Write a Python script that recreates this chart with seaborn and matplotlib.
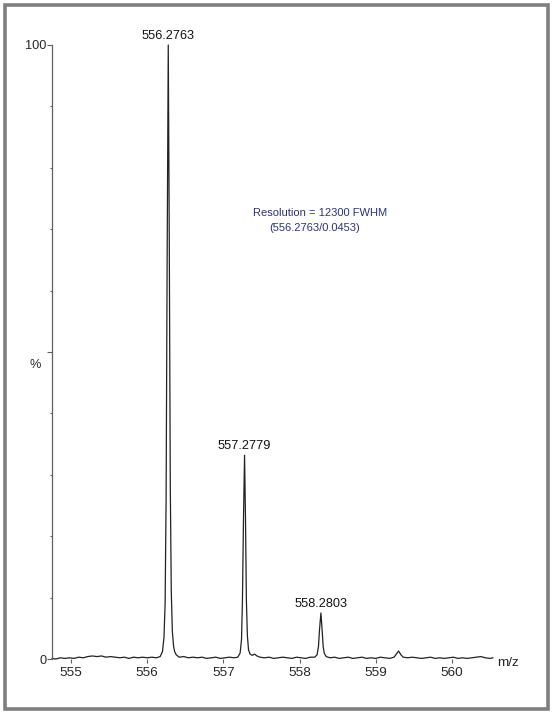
#!/usr/bin/env python3
"""Mass spectrum (profile mode) around m/z 556 with resolution note."""

import matplotlib
matplotlib.use("Agg")
import matplotlib.pyplot as plt
import pandas as pd
import seaborn as sns
from matplotlib.patches import Rectangle
from matplotlib.ticker import MultipleLocator

# profile trace (m/z, relative intensity %)
MZ = [
    554.75, 554.80, 554.86, 554.92, 554.98, 555.04, 555.10, 555.16, 555.22, 555.28,
    555.34, 555.40, 555.46, 555.52, 555.58, 555.64, 555.70, 555.76, 555.82, 555.88,
    555.94, 556.00, 556.06, 556.12, 556.17, 556.20, 556.22, 556.235, 556.248, 556.262,
    556.2763, 556.29, 556.303, 556.316, 556.33, 556.345, 556.36, 556.38, 556.42, 556.48,
    556.54, 556.60, 556.66, 556.72, 556.78, 556.84, 556.90, 556.96, 557.02, 557.08,
    557.14, 557.19, 557.22, 557.238, 557.25, 557.264, 557.2779, 557.29, 557.302, 557.315,
    557.33, 557.35, 557.38, 557.41, 557.44, 557.48, 557.54, 557.60, 557.66, 557.72,
    557.78, 557.84, 557.90, 557.96, 558.02, 558.08, 558.14, 558.20, 558.23, 558.248,
    558.262, 558.2803, 558.296, 558.31, 558.325, 558.35, 558.40, 558.46, 558.52, 558.58,
    558.64, 558.70, 558.76, 558.82, 558.88, 558.94, 559.00, 559.06, 559.12, 559.18,
    559.24, 559.27, 559.30, 559.33, 559.36, 559.42, 559.48, 559.54, 559.60, 559.66,
    559.72, 559.78, 559.84, 559.90, 559.96, 560.02, 560.08, 560.14, 560.20, 560.26,
    560.32, 560.38, 560.44, 560.50, 560.54,
]
INTENSITY = [
    0.1, 0.0, 0.2, 0.1, 0.2, 0.1, 0.3, 0.2, 0.4, 0.5,
    0.4, 0.5, 0.3, 0.4, 0.3, 0.2, 0.3, 0.1, 0.3, 0.2,
    0.3, 0.2, 0.3, 0.2, 0.4, 1.2, 3.5, 9.0, 26.0, 66.0,
    100.0, 67.0, 28.0, 11.0, 4.5, 2.2, 1.2, 0.7, 0.3, 0.4,
    0.2, 0.3, 0.2, 0.3, 0.1, 0.2, 0.3, 0.1, 0.2, 0.3,
    0.2, 0.3, 1.0, 3.2, 9.5, 23.0, 33.2, 23.0, 9.5, 3.8,
    1.5, 0.8, 0.6, 0.8, 0.5, 0.3, 0.2, 0.3, 0.1, 0.2,
    0.3, 0.2, 0.1, 0.3, 0.2, 0.1, 0.3, 0.3, 0.7, 2.0,
    4.8, 7.5, 4.8, 2.0, 0.9, 0.4, 0.2, 0.3, 0.1, 0.2,
    0.3, 0.1, 0.2, 0.3, 0.1, 0.2, 0.1, 0.3, 0.2, 0.1,
    0.3, 0.8, 1.3, 0.7, 0.3, 0.2, 0.3, 0.2, 0.1, 0.2,
    0.3, 0.1, 0.2, 0.1, 0.2, 0.3, 0.1, 0.2, 0.1, 0.2,
    0.3, 0.4, 0.2, 0.1, 0.2,
]

# labelled peaks
PEAK_MZ = [556.2763, 557.2779, 558.2803]
PEAK_HEIGHT = [100.0, 33.2, 7.5]
PEAK_LABELS = ["556.2763", "557.2779", "558.2803"]

X_TICKS = [555, 556, 557, 558, 559, 560]
NOTE_LINES = ["Resolution = 12300 FWHM", "(556.2763/0.0453)"]

sns.set_style("white")
plt.rcParams["font.family"] = ["Liberation Sans", "DejaVu Sans"]

FONT = 9.2
AXIS_GREY = "#606060"


def main() -> None:
    df = pd.DataFrame({"mz": MZ, "intensity": INTENSITY})

    fig = plt.figure(figsize=(5.52, 7.13), dpi=100)
    ax = fig.add_axes([0.0942, 0.0757, 0.799, 0.8612])

    sns.lineplot(data=df, x="mz", y="intensity", ax=ax, color="#222222",
                 linewidth=0.9, sort=True, estimator=None)
    for line in ax.lines:
        line.set_clip_on(False)

    ax.set_xlim(554.75, 560.54)
    ax.set_ylim(0, 100)
    ax.set_xlabel("")
    ax.set_ylabel("")

    ax.set_xticks(X_TICKS)
    ax.set_xticklabels([str(t) for t in X_TICKS])
    ax.set_yticks([0, 50, 100])
    ax.set_yticklabels(["0", "", "100"])
    ax.yaxis.set_minor_locator(MultipleLocator(10))

    ax.tick_params(axis="x", which="major", direction="out", length=3,
                   width=0.8, color=AXIS_GREY, pad=3, labelsize=FONT + 0.5,
                   bottom=True)
    ax.tick_params(axis="y", which="major", direction="out", length=3.5,
                   width=0.8, color=AXIS_GREY, pad=0.5, labelsize=FONT,
                   left=True)
    ax.tick_params(axis="y", which="minor", direction="out", length=1.8,
                   width=0.8, color=AXIS_GREY, left=True)

    for side in ("top", "right", "bottom"):
        ax.spines[side].set_visible(False)
    ax.spines["left"].set_color(AXIS_GREY)
    ax.spines["left"].set_linewidth(0.9)

    for mz, h, lab in zip(PEAK_MZ, PEAK_HEIGHT, PEAK_LABELS):
        ax.annotate(lab, xy=(mz, h), xytext=(0, 2), textcoords="offset points",
                    ha="center", va="bottom", fontsize=FONT, color="#111111")

    ax.text(557.39, 72.6, NOTE_LINES[0], ha="left", va="center",
            fontsize=FONT - 1.2, color="#2b3378")
    ax.text(557.60, 70.2, NOTE_LINES[1], ha="left", va="center",
            fontsize=FONT - 1.2, color="#2b3378")

    ax.text(554.53, 47.9, "%", ha="center", va="center", fontsize=FONT,
            clip_on=False)
    ax.text(560.60, -0.6, "m/z", ha="left", va="center", fontsize=FONT + 0.5,
            clip_on=False)

    # grey frame round the whole figure
    fig.patches.append(Rectangle((0.009, 0.0063), 0.983, 0.986,
                                 transform=fig.transFigure, fill=False,
                                 edgecolor="#7f7f7f", linewidth=2.6))

    fig.savefig("out.png", dpi=100)
    plt.close(fig)


if __name__ == "__main__":
    main()
